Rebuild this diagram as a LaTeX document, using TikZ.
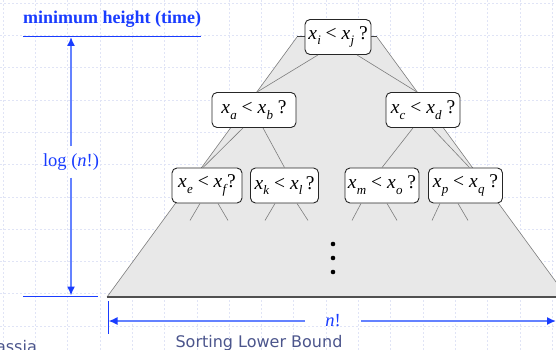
\documentclass[tikz,border=0pt]{standalone}
\usepackage{fontspec}
\setmainfont{Liberation Serif}
\newfontfamily\sansf{DejaVu Sans}
\usetikzlibrary{arrows.meta}
\definecolor{gridc}{RGB}{224,228,246}
\definecolor{bluet}{RGB}{25,60,255}
\definecolor{bluel}{RGB}{100,130,255}
\definecolor{trif}{RGB}{232,232,232}
\definecolor{edgec}{RGB}{125,125,125}
\definecolor{basec}{RGB}{80,80,80}
\definecolor{capc}{RGB}{75,85,140}
\newcommand{\xv}[1]{\textit{x}\kern0.3pt\raisebox{-0.3em}{\fontsize{13}{13}\selectfont\itshape #1}}
\begin{document}
\begin{tikzpicture}[x=1pt,y=-1pt,
  cmp/.style={draw=black!85, line width=0.9pt, fill=white, rounded corners=5pt,
    font=\fontsize{19.5}{21}\selectfont, inner xsep=1pt, inner ysep=0pt, minimum height=35pt},
  tedge/.style={draw=edgec, line width=0.6pt},
  hline/.style={draw=bluet, line width=0.9pt},
  arr/.style={draw=bluel, line width=1.5pt, -{Latex[length=9pt,width=8pt,color=bluet]}},
  lbl/.style={text=bluet, font=\fontsize{18.5}{20}\selectfont},
  gridl/.style={draw=gridc, line width=0.6pt, dash pattern=on 2pt off 2pt}]
\useasboundingbox (0,0) rectangle (556,350);
\clip (0,0) rectangle (556,350);
% grid
\foreach \i in {0,...,17} \draw[gridl] (3+32.3*\i,0) -- (3+32.3*\i,350);
\foreach \i in {0,...,10} \draw[gridl] (0,3+32.3*\i) -- (556,3+32.3*\i);
% trapezoid
\coordinate (tl) at (297,37);
\coordinate (tr) at (377,37);
\coordinate (br) at (567,297);
\coordinate (bl) at (107,297);
\fill[trif] (tl) -- (tr) -- (br) -- (bl) -- cycle;
\draw[tedge] (tl) -- (bl);
\draw[tedge] (tr) -- (br);
\draw[draw=black!75, line width=1pt] (tl) -- (tr);
\draw[draw=basec, line width=1.3pt] (bl) -- (br);
% nodes
\node[cmp, minimum width=66pt] (top) at (338,37) {\xv{i} < \xv{j} ?};
\node[cmp, minimum width=84pt] (a) at (254,110) {\xv{a} < \xv{b} ?};
\node[cmp, minimum width=74pt] (c) at (423,110) {\xv{c} < \xv{d} ?};
\node[cmp, minimum width=70pt] (e) at (207,185.5) {\xv{e} < \xv{f}\kern1pt?};
\node[cmp, minimum width=68pt] (k) at (284.5,185.5) {\xv{k} < \xv{l}\,?};
\node[cmp, minimum width=74pt] (m) at (382,185.5) {\xv{m} < \xv{o} ?};
\node[cmp, minimum width=74pt] (p) at (465.5,185.5) {\xv{p} < \xv{q} ?};
% inner edges
\draw[tedge] ([xshift=-20]top.south) -- ([xshift=3]a.north);
\draw[tedge] ([xshift=19]top.south) -- ([xshift=-6]c.north);
\draw[tedge] ([xshift=-11]a.south) -- ([xshift=-4]e.north);
\draw[tedge] ([xshift=9]a.south) -- (k.north);
\draw[tedge] ([xshift=-10]c.south) -- (m.north);
\draw[tedge] ([xshift=9]c.south) -- ([xshift=4]p.north);
% leaf stubs
\draw[tedge] ([xshift=-7]e.south) -- ++(-10,17);
\draw[tedge] ([xshift=11]e.south) -- ++(10,17);
\draw[tedge] ([xshift=-9.5]k.south) -- ++(-10,17);
\draw[tedge] ([xshift=12.5]k.south) -- ++(11,17);
\draw[tedge] ([xshift=-21]m.south) -- ++(-9,17);
\draw[tedge] ([xshift=5]m.south) -- ++(10,17);
\draw[tedge] ([xshift=-25.5]p.south) -- ++(-8,17);
\draw[tedge] ([xshift=-7.5]p.south) -- ++(10,17);
% dots
\foreach \yy in {244,258,272} \fill[black] (333,\yy) circle (2.3);
% left height indicator
\node[lbl, font=\bfseries\fontsize{18}{20}\selectfont] (title) at (112,19) {minimum height (time)};
\coordinate (h1) at (23,36);
\coordinate (h2) at (201,36);
\coordinate (h3) at (23,296);
\coordinate (h4) at (98,296);
\draw[hline] (h1) -- (h2);
\draw[hline] (h3) -- (h4);
\node[lbl, inner ysep=7pt] (logn) at (71,162) {log (\textit{n}!)};
\coordinate (atop) at (71,37);
\coordinate (abot) at (71,295.5);
\draw[arr] (logn.north) -- (atop);
\draw[arr] (logn.south) -- (abot);
% bottom width indicator
\node[lbl, inner xsep=20pt] (nf) at (333,321) {\textit{n}!};
\coordinate (aleft) at (108.5,321);
\coordinate (aright) at (556,321);
\draw[arr] (nf.west) -- (aleft);
\draw[arr] (nf.east) -- (aright);
\coordinate (t1) at (108,301);
\coordinate (t2) at (108,334);
\draw[hline] (t1) -- (t2);
% captions
\node[anchor=base, text=capc, font=\sansf\fontsize{16}{18}\selectfont, inner sep=0pt] (cap) at (259,347) {Sorting Lower Bound};
\node[anchor=base east, text=capc, font=\sansf\fontsize{16}{18}\selectfont, inner sep=0pt] (auth) at (37,352) {assia};
\end{tikzpicture}
\end{document}
